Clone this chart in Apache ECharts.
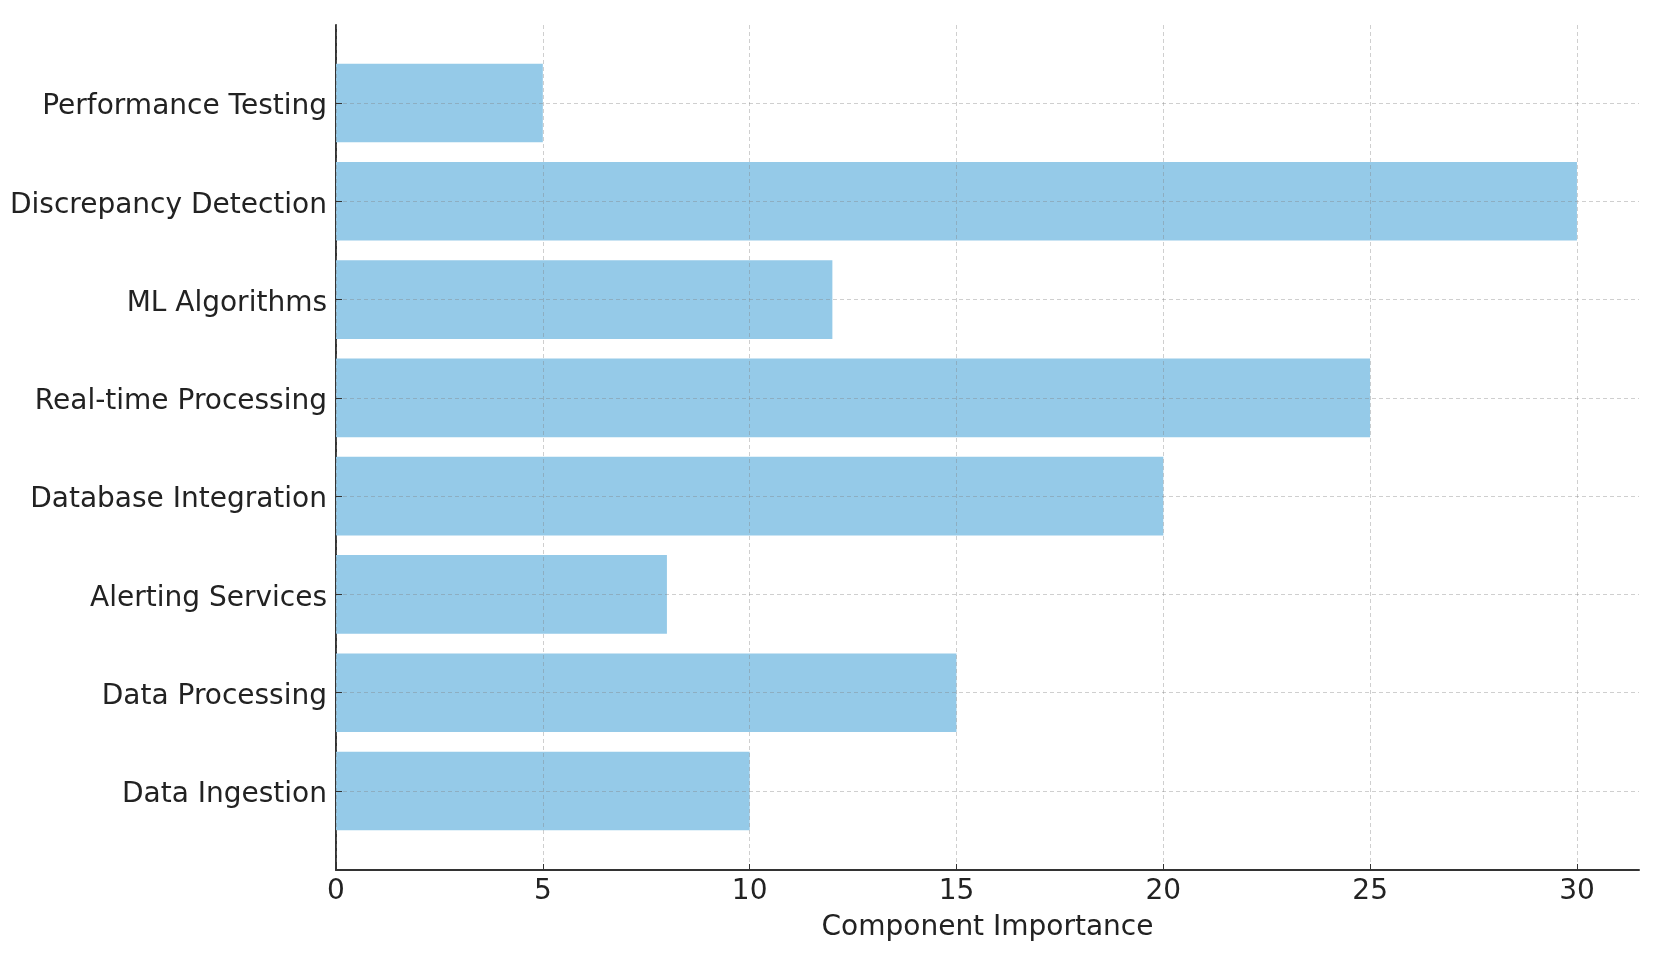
<!DOCTYPE html>
<html>
<head>
<meta charset="utf-8">
<script src="https://cdn.jsdelivr.net/npm/echarts@6/dist/echarts.min.js"></script>
<style>
html,body{margin:0;padding:0;background:#fff;}
#chart{width:1653px;height:957px;}
</style>
</head>
<body>
<div id="chart"></div>
<script>
// Data (bottom to top, as drawn on the category axis)
const categories = ['Data Ingestion', 'Data Processing', 'Alerting Services', 'Database Integration',
  'Real-time Processing', 'ML Algorithms', 'Discrepancy Detection', 'Performance Testing'];
const importance = [10, 15, 8, 20, 25, 12, 30, 5];
const xTicks = [0, 5, 10, 15, 20, 25, 30];
const xAxisName = 'Component Importance';

const font = 'DejaVu Sans';
const textColor = '#222222';
const gridLineStyle = { color: 'rgba(128,128,128,0.38)', type: [4, 3], width: 1 };

const chart = echarts.init(document.getElementById('chart'));
chart.setOption({
  backgroundColor: '#ffffff',
  animation: false,
  grid: [
    { left: 336, right: 14, top: 25, bottom: 87 },
    { left: 336, right: 14, top: 103, bottom: 166 }
  ],
  xAxis: [
    {
      gridIndex: 0, type: 'value', min: 0, max: 31.5, interval: 5, z: 5,
      axisLine: { show: true, lineStyle: { color: '#333', width: 2 } },
      axisTick: { show: true, inside: true, length: 6, customValues: xTicks, lineStyle: { color: '#333' } },
      axisLabel: { show: true, customValues: xTicks, fontFamily: font, fontSize: 28, color: textColor, margin: 8 },
      splitLine: { show: true, lineStyle: gridLineStyle },
      name: xAxisName, nameLocation: 'middle', nameGap: 44,
      nameTextStyle: { fontFamily: font, fontSize: 28, color: textColor }
    },
    { gridIndex: 1, type: 'value', min: 0, max: 31.5, show: false }
  ],
  yAxis: [
    {
      gridIndex: 0, type: 'value', min: 0, max: 1,
      axisLine: { show: true, lineStyle: { color: '#333', width: 2 } },
      axisTick: { show: false }, axisLabel: { show: false }, splitLine: { show: false }
    },
    {
      gridIndex: 1, type: 'category', data: categories, boundaryGap: false, z: 5,
      axisLine: { show: false },
      axisTick: { show: true, inside: true, length: 6, lineStyle: { color: '#333' } },
      axisLabel: { fontFamily: font, fontSize: 28, color: textColor, margin: 9, verticalAlign: 'top', lineHeight: 8 },
      splitLine: { show: true, lineStyle: gridLineStyle }
    }
  ],
  series: [{
    type: 'bar', xAxisIndex: 1, yAxisIndex: 1, data: importance,
    barWidth: '80%', clip: false,
    itemStyle: { color: '#95cae8' }
  }]
});
</script>
</body>
</html>
